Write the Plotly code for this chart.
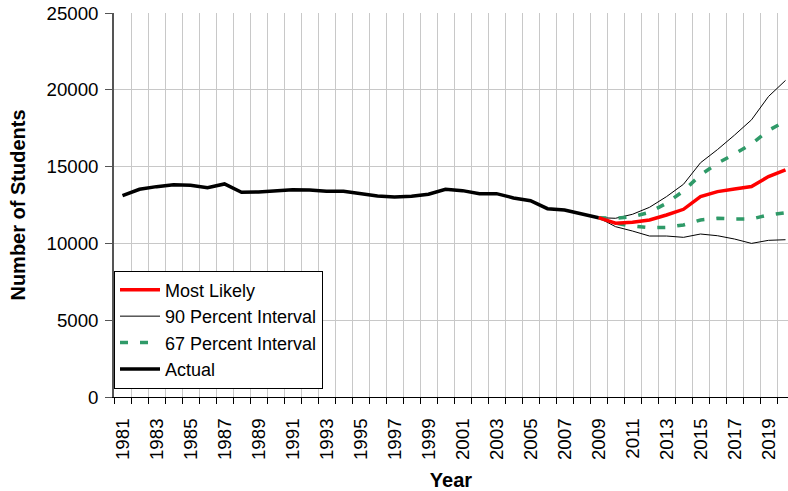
import plotly.graph_objects as go

FONT = "Liberation Sans, Arial, sans-serif"

actual_years = list(range(1981, 2010))
actual = [13110, 13525, 13695, 13825, 13790, 13630, 13870, 13330, 13350, 13415,
          13500, 13480, 13395, 13395, 13265, 13090, 13025, 13070, 13200, 13525,
          13435, 13240, 13240, 12960, 12780, 12260, 12180, 11900, 11675]

proj_years = list(range(2009, 2021))
most_likely = [11675, 11310, 11375, 11525, 11850, 12220, 13045, 13370, 13545, 13700, 14350, 14785]
upper_90 = [11675, 11635, 11895, 12350, 13045, 13850, 15250, 16110, 17050, 18045, 19565, 20610]
lower_90 = [11675, 11090, 10805, 10480, 10480, 10395, 10610, 10500, 10285, 10000, 10200, 10240]
upper_67 = [11675, 11630, 11740, 12025, 12610, 13415, 14460, 15220, 15820, 16470, 17360, 17950]
lower_67 = [11675, 11310, 11130, 11020, 11045, 11200, 11525, 11635, 11590, 11590, 11850, 12000]

odd_years = list(range(1981, 2021, 2))
y_ticks = [0, 5000, 10000, 15000, 20000, 25000]

GREEN = "#2f9a68"

fig = go.Figure()
fig.add_trace(go.Scatter(x=proj_years, y=upper_90, mode="lines", name="90 Percent Interval",
                         line=dict(color="black", width=1), legendrank=2))
fig.add_trace(go.Scatter(x=proj_years, y=lower_90, mode="lines", name="90 Percent Interval",
                         line=dict(color="black", width=1), showlegend=False))
fig.add_trace(go.Scatter(x=proj_years, y=upper_67, mode="lines", name="67 Percent Interval",
                         line=dict(color=GREEN, width=3.5, dash="8px,12px"), legendrank=3))
fig.add_trace(go.Scatter(x=proj_years, y=lower_67, mode="lines", name="67 Percent Interval",
                         line=dict(color=GREEN, width=3.5, dash="8px,12px"), showlegend=False))
fig.add_trace(go.Scatter(x=proj_years, y=most_likely, mode="lines", name="Most Likely",
                         line=dict(color="#ff0000", width=3.5), legendrank=1))
fig.add_trace(go.Scatter(x=actual_years, y=actual, mode="lines", name="Actual",
                         line=dict(color="black", width=3.5), legendrank=4))

fig.update_layout(
    width=788, height=491,
    margin=dict(l=114, r=0, t=13, b=94, autoexpand=False),
    paper_bgcolor="white", plot_bgcolor="white",
    font=dict(family=FONT, color="black", size=18),
    showlegend=True,
    legend=dict(x=0, y=0.022, xanchor="left", yanchor="bottom",
                bgcolor="white", bordercolor="black", borderwidth=1,
                font=dict(family=FONT, size=18, color="black"),
                tracegroupgap=0, itemwidth=40),
    xaxis=dict(
        range=[1980.5, 2020.147], automargin=False,
        tickmode="array", tickvals=odd_years, ticktext=[str(y) for y in odd_years],
        tickangle=-90, ticks="", showgrid=False,
        tickfont=dict(family=FONT, size=18.7, color="black"),
        ticklabelstandoff=13,
        showline=True, linecolor="black", linewidth=1,
        zeroline=False,
        minor=dict(tick0=1980.5, dtick=1, ticks="outside", ticklen=6, tickcolor="black",
                   tickwidth=1, showgrid=True, gridcolor="#c8c8c8", gridwidth=1),
        title=dict(text="<b>Year</b>", font=dict(family=FONT, size=20, color="black"), standoff=14),
    ),
    yaxis=dict(
        range=[0, 25000], automargin=False,
        tickmode="array", tickvals=y_ticks, ticktext=[str(v) for v in y_ticks],
        ticks="outside", ticklen=7, tickcolor="#555555",
        tickfont=dict(family=FONT, size=18.7, color="black"),
        ticklabelstandoff=3,
        showgrid=True, gridcolor="#c8c8c8", gridwidth=1,
        showline=True, linecolor="#555555", linewidth=1.5,
        zeroline=False,
        title=dict(text="<b>Number of Students</b>", font=dict(family=FONT, size=20, color="black"), standoff=16),
    ),
)

fig.write_html("out.html", config={"displayModeBar": False},
               post_script="document.body.style.margin='0';document.body.style.overflow='hidden';")
